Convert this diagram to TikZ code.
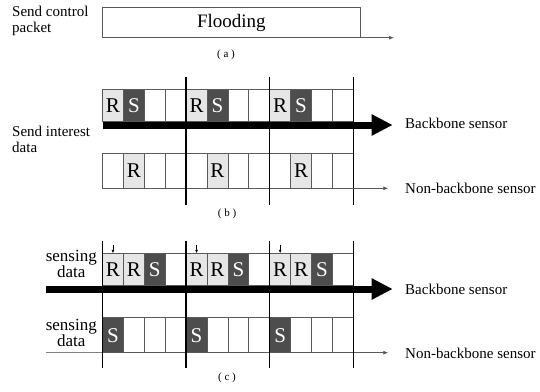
\documentclass[tikz,border=0pt]{standalone}
\usepackage{fontspec}
\setmainfont{Liberation Serif}
\usetikzlibrary{arrows.meta,calc}
\definecolor{lightR}{HTML}{E6E6E6}
\definecolor{darkS}{HTML}{4D4D4D}
\definecolor{cellline}{HTML}{5A5A5A}
\tikzset{
  cellbox/.style={draw=cellline, line width=0.8pt, minimum width=20.9pt, minimum height=31.7pt,
     inner sep=0pt, outer sep=0pt, anchor=north west, font=\fontsize{21}{21}\selectfont},
  tallcell/.style={minimum height=35pt},
  rcell/.style={cellbox, fill=lightR, text=black},
  scell/.style={cellbox, fill=darkS, text=white},
  ecell/.style={cellbox, fill=white},
  divider/.style={line width=1.4pt, black},
  bigarrow/.style={line width=7pt, -{Triangle[length=21pt,width=20pt]}},
  thinarrow/.style={draw=cellline, line width=0.8pt, -{Latex[length=5pt,width=4pt]}},
  lbl/.style={font=\fontsize{15}{16}\selectfont, inner sep=0pt},
  sdtxt/.style={font=\fontsize{17}{16}\selectfont, inner sep=0pt, align=center, anchor=east},
  captxt/.style={font=\fontsize{11}{11}\selectfont, inner sep=0pt},
}
\begin{document}
\begin{tikzpicture}[x=1pt,y=-1pt]
\useasboundingbox (0,0) rectangle (540,391);
\fill[white] (0,0) rectangle (540,391);

% ---------- (a)
\node[lbl, anchor=north west, align=left] (ctl) at (12,6) {Send control\\packet};
\node[draw=cellline, line width=1pt, minimum width=257.3pt, minimum height=30pt, inner sep=0pt, outer sep=0pt,
      anchor=north west, font=\fontsize{19}{19}\selectfont] (flood) at (102.7,7.7) {Flooding};
\draw[thinarrow] (flood.south east) -- ++(34,0);
\node[captxt] (capa) at (226,55) {( a )};

% ---------- (b)
\def\xz{102.5}
\def\per{83.6}
\def\cw{20.9}
\foreach \p in {0,1,2}{
  \node[rcell] (bb-\p-1) at ({\xz+\p*\per+0*\cw},89.3) {R};
  \node[scell] (bb-\p-2) at ({\xz+\p*\per+1*\cw},89.3) {S};
  \node[ecell] (bb-\p-3) at ({\xz+\p*\per+2*\cw},89.3) {};
  \node[ecell] (bb-\p-4) at ({\xz+\p*\per+3*\cw},89.3) {};
  \node[ecell, tallcell] (bn-\p-1) at ({\xz+\p*\per+0*\cw},153.3) {};
  \node[rcell, tallcell] (bn-\p-2) at ({\xz+\p*\per+1*\cw},153.3) {R};
  \node[ecell, tallcell] (bn-\p-3) at ({\xz+\p*\per+2*\cw},153.3) {};
  \node[ecell, tallcell] (bn-\p-4) at ({\xz+\p*\per+3*\cw},153.3) {};
}
\foreach \i in {1,2,3}{
  \coordinate (bdt\i) at ({\xz+\i*\per},76.7);
  \coordinate (bdb\i) at ({\xz+\i*\per},205);
  \draw[divider] (bdt\i) -- (bdb\i);
}
\coordinate (bbs) at (102.5,125);
\coordinate (bbe) at (392.7,125);
\draw[bigarrow] (bbs) -- (bbe);
\draw[thinarrow] (bn-2-4.south east) -- ++(35,0);
\node[lbl, anchor=west] (bbtxt) at (405,123) {Backbone sensor};
\node[lbl, anchor=west] (bntxt) at (405,188) {Non-backbone sensor};
\node[lbl, anchor=north west, align=left] (interest) at (12,126) {Send interest\\data};
\node[captxt] (capb) at (227,214) {( b )};

% ---------- (c)
\foreach \p in {0,1,2}{
  \node[rcell] (cb-\p-1) at ({\xz+\p*\per+0*\cw},253.3) {R};
  \node[rcell] (cb-\p-2) at ({\xz+\p*\per+1*\cw},253.3) {R};
  \node[scell] (cb-\p-3) at ({\xz+\p*\per+2*\cw},253.3) {S};
  \node[ecell] (cb-\p-4) at ({\xz+\p*\per+3*\cw},253.3) {};
  \node[scell, tallcell] (cn-\p-1) at ({\xz+\p*\per+0*\cw},317.7) {S};
  \node[ecell, tallcell] (cn-\p-2) at ({\xz+\p*\per+1*\cw},317.7) {};
  \node[ecell, tallcell] (cn-\p-3) at ({\xz+\p*\per+2*\cw},317.7) {};
  \node[ecell, tallcell] (cn-\p-4) at ({\xz+\p*\per+3*\cw},317.7) {};
  \coordinate (mk-\p) at ($(cb-\p-1.north)+(0,-8.5)$);
  \draw[black, line width=0.7pt, -{Latex[length=3.5pt,width=3pt]}] (mk-\p) -- (cb-\p-1.north);
}
\coordinate (cns) at (46,352.7);
\draw[draw=gray, line width=0.8pt] (cns) -- (cn-0-1.south west);
\draw[thinarrow] (cn-2-4.south east) -- ++(35,0);
\foreach \i in {0,1,2,3}{
  \coordinate (cdt\i) at ({\xz+\i*\per},240.7);
  \coordinate (cdb\i) at ({\xz+\i*\per},368.3);
  \draw[divider] (cdt\i) -- (cdb\i);
}
\coordinate (cbs) at (46,289);
\coordinate (cbe) at (392.7,289);
\draw[bigarrow] (cbs) -- (cbe);
\node[lbl, anchor=west] (cbtxt) at (405,289) {Backbone sensor};
\node[lbl, anchor=west] (cntxt) at (405,353) {Non-backbone sensor};
\node[sdtxt] (sd1) at (97,264) {sensing\\data};
\node[sdtxt] (sd2) at (97,332.5) {sensing\\data};
\node[captxt] (capc) at (227,378) {( c )};
\end{tikzpicture}
\end{document}
